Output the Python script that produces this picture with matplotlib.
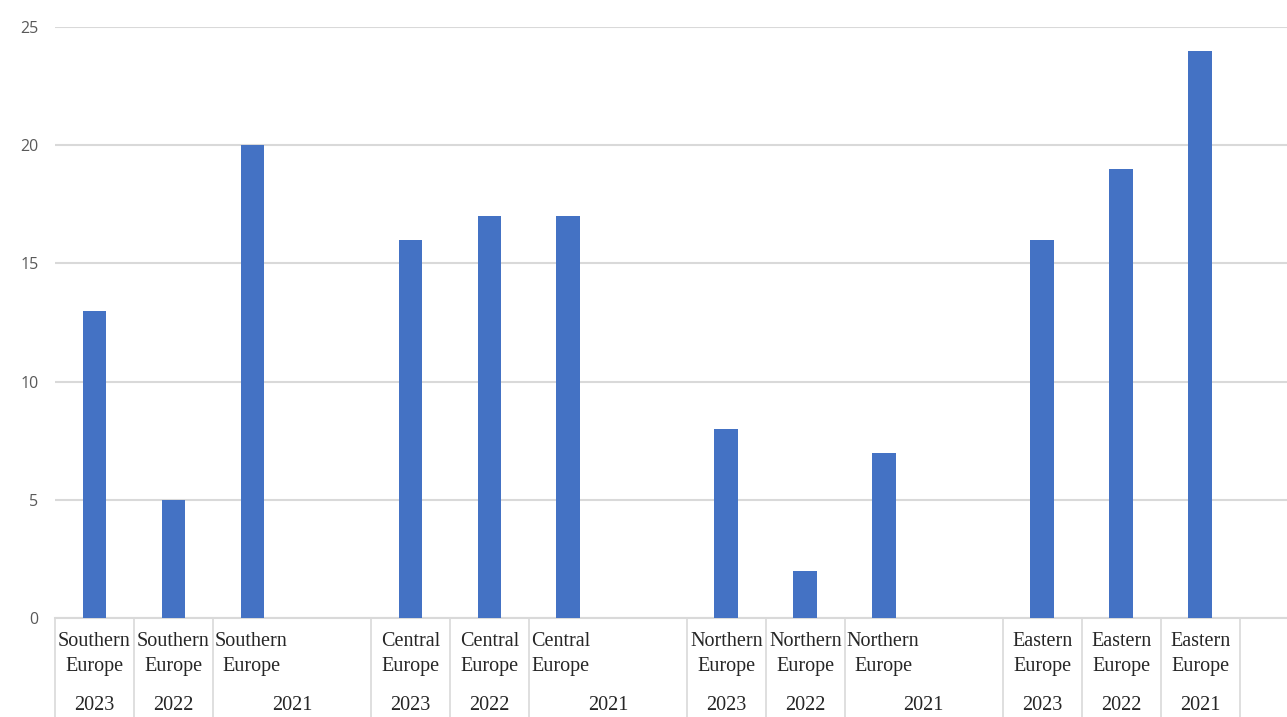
import matplotlib.pyplot as plt
import matplotlib.transforms as mtransforms

# categories in Excel order (blank cell after each 2021 column)
regions = ["Southern\nEurope", "Central\nEurope", "Northern\nEurope", "Eastern\nEurope"]
years = ["2023", "2022", "2021"]
southern = [13, 5, 20]
central = [16, 17, 17]
northern = [8, 2, 7]
eastern = [16, 19, 24]
values = [southern, central, northern, eastern]

bar_color = "#4472C4"
grid_color = "#d9d9d9"

fig = plt.figure(figsize=(12.87, 7.17), dpi=100)
ax = fig.add_axes([55 / 1287, 99 / 717, 1 - 55 / 1287, 591 / 717])

xs = []
ys = []
for g, vals in enumerate(values):
    for k, v in enumerate(vals):
        xs.append(g * 4 + k)
        ys.append(v)

ax.bar(xs, ys, width=0.30, color=bar_color, zorder=3)

ax.set_xlim(-0.5, 15.1)
ax.set_ylim(0, 25)
ax.set_yticks([0, 5, 10, 15, 20, 25])
ax.yaxis.grid(True, color=grid_color, linewidth=1.5, zorder=0)
ax.tick_params(axis="y", length=0, pad=12, labelsize=11.5, labelcolor="#595959")
for lab in ax.get_yticklabels():
    lab.set_fontfamily("Open Sans")
ax.set_xticks([])
for s in ["top", "right", "left"]:
    ax.spines[s].set_visible(False)
ax.spines["bottom"].set_color(grid_color)
ax.spines["bottom"].set_linewidth(1.5)

trans = mtransforms.blended_transform_factory(ax.transData, ax.transAxes)
depth = -110 / 591

# cell separators of the two-level category axis
edges = []
for g in range(4):
    edges += [g * 4 - 0.5, g * 4 + 0.5, g * 4 + 1.5]
edges.append(14.5)
for e in edges:
    ax.plot([e, e], [0, depth], transform=trans, color=grid_color,
            linewidth=1.2, clip_on=False)

txt = dict(family="Liberation Serif", fontsize=14.5, color="#262626",
           xycoords=trans, textcoords="offset pixels", va="center")
for g, reg in enumerate(regions):
    for k, yr in enumerate(years):
        x = g * 4 + k
        wide = (k == 2 and g < 3)
        if wide:
            ax.annotate(reg, xy=(x - 0.5, 0), xytext=(2, -36), ha="left",
                        multialignment="center", linespacing=1.45, **txt)
            ax.annotate(yr, xy=(x + 0.5, 0), xytext=(0, -87), ha="center", **txt)
        else:
            ax.annotate(reg, xy=(x, 0), xytext=(0, -36), ha="center",
                        multialignment="center", linespacing=1.45, **txt)
            ax.annotate(yr, xy=(x, 0), xytext=(0, -87), ha="center", **txt)

fig.savefig("out.png", dpi=100)
